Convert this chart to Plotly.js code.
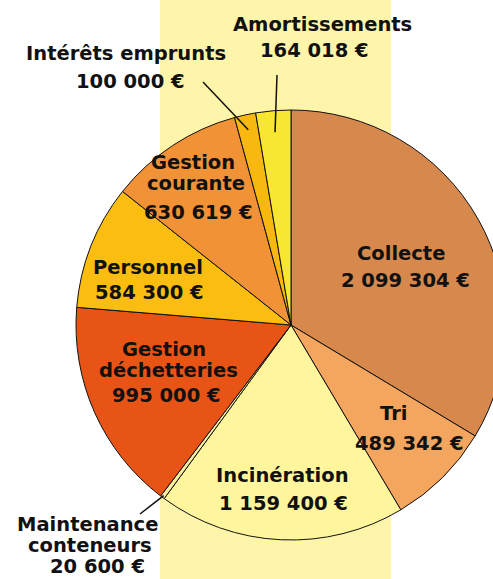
<!DOCTYPE html>
<html>
<head>
<meta charset="utf-8">
<script src="https://cdn.plot.ly/plotly-3.0.1.min.js"></script>
<style>
  html, body { margin: 0; padding: 0; overflow: hidden; background: #fff; }
  #chart { width: 520px; height: 579px; }
</style>
</head>
<body>
<div id="chart"></div>
<script>
// Budget par poste, dans l'ordre horaire depuis midi
const LABELS = [
  'Collecte', 'Tri', 'Incinération', 'Maintenance conteneurs',
  'Gestion déchetteries', 'Personnel', 'Gestion courante',
  'Intérêts emprunts', 'Amortissements',
];
const NAME_LINES = [
  ['Collecte'], ['Tri'], ['Incinération'], ['Maintenance', 'conteneurs'],
  ['Gestion', 'déchetteries'], ['Personnel'], ['Gestion', 'courante'],
  ['Intérêts emprunts'], ['Amortissements'],
];
const VALUES = [2099304, 489342, 1159400, 20600, 995000, 584300, 630619, 100000, 164018];
const SLICE_COLORS = [
  '#d6884d', '#f4a65e', '#fff59c', '#f8eea0',
  '#e85416', '#fabd10', '#f29236', '#f9b80f', '#f9e631',
];

const W = 520, H = 579;
const CX = 291, CY = 325, R = 215;
const px = x => x / W;
const py = y => 1 - y / H;

const fmtEuro = v => String(v).replace(/\B(?=(\d{3})+(?!\d))/g, ' ') + ' €';

// label placement (pixels): centre of each name line, centre of the value
const LABEL_POS = [
  { n: [[401, 253]], v: [405, 280] },
  { n: [[393, 413]], v: [409, 444] },
  { n: [[282, 475]], v: [283, 503] },
  { n: [[87, 524], [90, 545]], v: [97, 566] },
  { n: [[164, 349], [168, 370]], v: [166, 395] },
  { n: [[148, 268]], v: [149, 292] },
  { n: [[193, 162], [196, 183]], v: [198, 212] },
  { n: [[126, 53]], v: [130, 81] },
  { n: [[322, 24]], v: [314, 50] },
];

// leader lines: slice index, radius fraction of the tip, tail pixel
const LEADERS = [
  { i: 7, f: 0.93, tx: 203, ty: 82 },
  { i: 8, f: 0.90, tx: 277, ty: 75 },
  { i: 3, f: 0.99, tx: 140, ty: 514 },
];

const FONT = { family: 'DejaVu Sans, Verdana, sans-serif', size: 19.5, color: '#111', weight: 'bold' };

const total = VALUES.reduce((a, b) => a + b, 0);
const midAngle = i => {
  const before = VALUES.slice(0, i).reduce((a, b) => a + b, 0);
  return (before + VALUES[i] / 2) / total * 2 * Math.PI;
};

const textAnn = (x, y, text) => ({
  xref: 'paper', yref: 'paper', x: px(x), y: py(y),
  text: text, showarrow: false, font: FONT,
  xanchor: 'center', yanchor: 'middle', borderpad: 0,
});

const annotations = [];
LABEL_POS.forEach((p, i) => {
  NAME_LINES[i].forEach((line, k) => annotations.push(textAnn(p.n[k][0], p.n[k][1], line)));
  annotations.push(textAnn(p.v[0], p.v[1], fmtEuro(VALUES[i])));
});

const shapes = [{
  type: 'rect', xref: 'paper', yref: 'paper', layer: 'below',
  x0: px(160), x1: px(391), y0: 0, y1: 1,
  fillcolor: '#fff5aa', line: { width: 0 },
}];
LEADERS.forEach(l => {
  const a = midAngle(l.i);
  const hx = CX + R * l.f * Math.sin(a);
  const hy = CY - R * l.f * Math.cos(a);
  shapes.push({
    type: 'line', xref: 'paper', yref: 'paper', layer: 'above',
    x0: px(l.tx), y0: py(l.ty), x1: px(hx), y1: py(hy),
    line: { color: '#111', width: 1.5 },
  });
});

const trace = {
  type: 'pie',
  labels: LABELS,
  values: VALUES,
  sort: false,
  direction: 'clockwise',
  rotation: 0,
  textinfo: 'none',
  hoverinfo: 'label+value',
  marker: { colors: SLICE_COLORS, line: { color: '#111', width: 1 } },
  domain: { x: [px(CX - R), px(CX + R)], y: [py(CY + R), py(CY - R)] },
};

const layout = {
  width: W, height: H,
  margin: { t: 0, r: 0, b: 0, l: 0 },
  paper_bgcolor: '#fff',
  showlegend: false,
  shapes: shapes,
  annotations: annotations,
};

Plotly.newPlot('chart', [trace], layout, { displayModeBar: false, staticPlot: true });
</script>
</body>
</html>
